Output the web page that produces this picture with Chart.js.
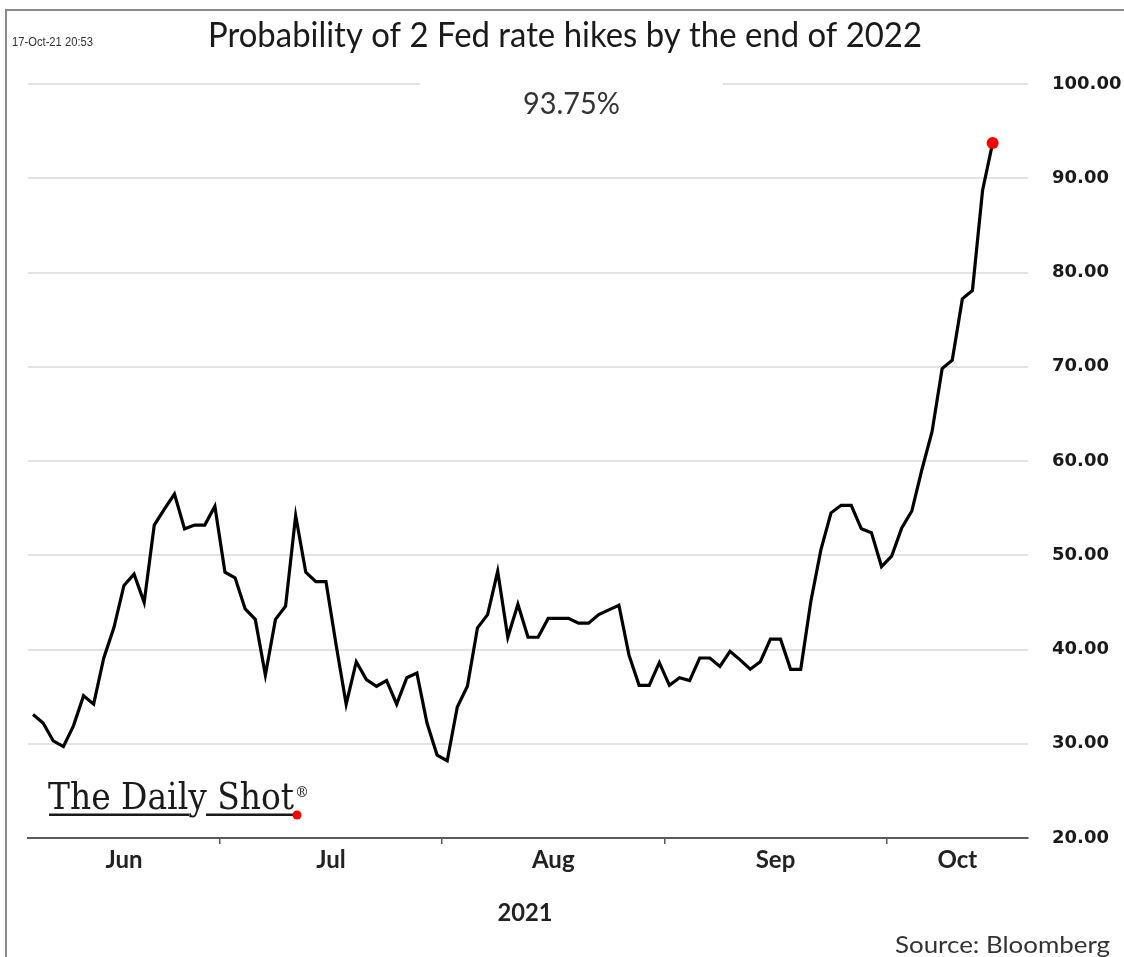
<!DOCTYPE html>
<html>
<head>
<meta charset="utf-8">
<script src="https://cdn.jsdelivr.net/npm/chart.js@4"></script>
<style>
html,body{margin:0;padding:0;background:#fff;}
#wrap{width:1124px;height:957px;position:relative;}
canvas{display:block;}
</style>
</head>
<body>
<div id="wrap"><canvas id="c" width="1124" height="957"></canvas></div>
<script>
// ---------------- DATA ----------------
const titleText = 'Probability of 2 Fed rate hikes by the end of 2022';
const stampText = '17-Oct-21 20:53';
const yearText = '2021';
const sourceText = 'Source: Bloomberg';
const logoText = 'The Daily Shot';

const dates = [
  '2021-06-04',
  '2021-06-07','2021-06-08','2021-06-09','2021-06-10','2021-06-11',
  '2021-06-14','2021-06-15','2021-06-16','2021-06-17','2021-06-18',
  '2021-06-21','2021-06-22','2021-06-23','2021-06-24','2021-06-25',
  '2021-06-28','2021-06-29','2021-06-30',
  '2021-07-01','2021-07-02',
  '2021-07-05','2021-07-06','2021-07-07','2021-07-08','2021-07-09',
  '2021-07-12','2021-07-13','2021-07-14','2021-07-15','2021-07-16',
  '2021-07-19','2021-07-20','2021-07-21','2021-07-22','2021-07-23',
  '2021-07-26','2021-07-27','2021-07-28','2021-07-29','2021-07-30',
  '2021-08-02','2021-08-03','2021-08-04','2021-08-05','2021-08-06',
  '2021-08-09','2021-08-10','2021-08-11','2021-08-12','2021-08-13',
  '2021-08-16','2021-08-17','2021-08-18','2021-08-19','2021-08-20',
  '2021-08-23','2021-08-24','2021-08-25','2021-08-26','2021-08-27',
  '2021-08-30','2021-08-31',
  '2021-09-01','2021-09-02','2021-09-03',
  '2021-09-06','2021-09-07','2021-09-08','2021-09-09','2021-09-10',
  '2021-09-13','2021-09-14','2021-09-15','2021-09-16','2021-09-17',
  '2021-09-20','2021-09-21','2021-09-22','2021-09-23','2021-09-24',
  '2021-09-27','2021-09-28','2021-09-29','2021-09-30',
  '2021-10-01',
  '2021-10-04','2021-10-05','2021-10-06','2021-10-07','2021-10-08',
  '2021-10-11','2021-10-12','2021-10-13','2021-10-14','2021-10-15'
];

const values = [
  33.1, 32.2, 30.3, 29.7, 31.9, 35.1, 34.2, 39.1, 42.3, 46.8,
  48.0, 45.0, 53.2, 54.9, 56.5, 52.8, 53.2, 53.2, 55.2,
  48.2, 47.6, 44.3, 43.2, 37.3, 43.2, 44.6, 54.2, 48.2, 47.2,
  47.2, 40.5, 34.2, 38.7, 36.8, 36.1, 36.7, 34.2, 37.0, 37.5,
  32.2, 28.8,
  28.2, 33.9, 36.1, 42.3, 43.7, 48.3, 41.3, 44.8, 41.3, 41.3,
  43.3, 43.3, 43.3, 42.8, 42.8, 43.7, 44.2, 44.7, 39.4, 36.2,
  36.2, 38.6,
  36.2, 37.0, 36.7, 39.1, 39.1, 38.2, 39.8, 38.9, 37.9, 38.7,
  41.1, 41.1, 37.9, 37.9, 45.1, 50.6, 54.5, 55.3, 55.3, 52.8,
  52.4, 48.8,
  49.9, 52.9, 54.7, 59.1, 63.1, 69.8, 70.7, 77.2, 78.1, 88.7,
  93.75
];

const monthNames = {6:'Jun', 7:'Jul', 8:'Aug', 9:'Sep', 10:'Oct'};
const yMin = 20, yMax = 100, yStep = 10;
const blankSlots = 3; // empty trailing days on the axis

// ---------------- X AXIS TICKS (month boundaries + centred labels) ----------------
const xMin = -0.5;
const xMax = values.length - 0.5 + blankSlots;
const groups = [];
dates.forEach((d, i) => {
  const m = +d.slice(5, 7);
  const g = groups[groups.length - 1];
  if (!g || g.m !== m) groups.push({m: m, first: i, last: i});
  else g.last = i;
});
const xTicks = [];
groups.forEach((g, k) => {
  const lo = k === 0 ? xMin : g.first - 0.5;
  const hi = k === groups.length - 1 ? xMax : g.last + 0.5;
  if (k > 0) xTicks.push({value: g.first - 0.5, boundary: true});
  xTicks.push({value: (lo + hi) / 2, text: monthNames[g.m]});
});

const points = values.map((v, i) => ({x: i, y: v}));
const lastVal = values[values.length - 1];

// ---------------- helpers ----------------
function fitText(ctx, text, font, x, y, w, align, color) {
  ctx.save();
  ctx.font = font;
  ctx.fillStyle = color;
  ctx.textBaseline = 'alphabetic';
  ctx.textAlign = 'left';
  const m = ctx.measureText(text).width;
  const s = w / m;
  const x0 = align === 'left' ? x : (align === 'right' ? x - w : x - w / 2);
  ctx.translate(x0, y);
  ctx.scale(s, 1);
  ctx.fillText(text, 0, 0);
  ctx.restore();
}

const decor = {
  id: 'decor',
  beforeDatasetsDraw(chart) {
    const ctx = chart.ctx;
    const y = chart.scales.y.getPixelForValue(yMax);
    ctx.save();
    ctx.fillStyle = '#ffffff';
    ctx.fillRect(420, y - 4, 303, 8);
    ctx.restore();
  },
  afterDraw(chart) {
    const ctx = chart.ctx;
    // frame
    ctx.save();
    ctx.strokeStyle = '#8a8a8a';
    ctx.lineWidth = 2;
    ctx.beginPath();
    ctx.moveTo(6, 957);
    ctx.lineTo(6, 10);
    ctx.lineTo(1124, 10);
    ctx.stroke();
    ctx.restore();

    fitText(ctx, stampText, '12px "Liberation Sans"', 12, 46, 81, 'left', '#333');
    fitText(ctx, titleText, '34px Lato', 208, 47, 714, 'left', '#1a1a1a');
    fitText(ctx, lastVal.toFixed(2) + '%', '30px Lato', 571.5, 114, 97, 'center', '#333');
    fitText(ctx, yearText, 'bold 24px Lato', 525, 921, 55, 'center', '#222');
    fitText(ctx, sourceText, '24px Lato', 1110, 953, 215, 'right', '#333');

    // logo
    fitText(ctx, logoText, '37px "DejaVu Serif"', 48, 809, 246, 'left', '#1a1a1a');
    ctx.save();
    ctx.font = '14px "DejaVu Serif"';
    ctx.fillStyle = '#1a1a1a';
    ctx.fillText('\u00AE', 295, 797);
    ctx.fillRect(49, 813.5, 140, 2.5);
    ctx.fillRect(206, 813.5, 87, 2.5);
    ctx.fillStyle = '#ff0000';
    ctx.beginPath();
    ctx.arc(297, 815, 4.5, 0, Math.PI * 2);
    ctx.fill();
    ctx.restore();
  }
};

new Chart(document.getElementById('c'), {
  type: 'line',
  data: {
    datasets: [{
      data: points,
      borderColor: '#000000',
      borderWidth: 3.2,
      tension: 0,
      fill: false,
      pointRadius: (c) => c.dataIndex === values.length - 1 ? 6 : 0,
      pointHoverRadius: (c) => c.dataIndex === values.length - 1 ? 6 : 0,
      pointBackgroundColor: '#ff0000',
      pointBorderWidth: 0,
      clip: false
    }]
  },
  options: {
    responsive: false,
    animation: false,
    devicePixelRatio: 1,
    layout: {padding: {left: 28, top: 84, right: 0, bottom: 0}},
    plugins: {legend: {display: false}, tooltip: {enabled: false}, title: {display: false}},
    scales: {
      x: {
        type: 'linear',
        min: xMin,
        max: xMax,
        afterBuildTicks: (axis) => { axis.ticks = xTicks.map(t => Object.assign({}, t)); },
        afterFit: (axis) => { axis.height = 119; },
        border: {display: true, color: '#5a5a5a', width: 2},
        grid: {
          drawOnChartArea: false,
          drawTicks: true,
          tickLength: 6,
          lineWidth: 1.5,
          color: (c) => (c.tick && c.tick.boundary) ? '#5a5a5a' : 'rgba(0,0,0,0)'
        },
        ticks: {
          autoSkip: false,
          maxRotation: 0,
          padding: 2,
          color: '#222',
          font: {family: 'Lato', size: 24, weight: 'bold'},
          callback: (value, index, ticks) => ticks[index].text || ''
        }
      },
      y: {
        position: 'right',
        min: yMin,
        max: yMax,
        afterFit: (axis) => { axis.width = 96; },
        border: {display: false},
        grid: {color: '#e3e3e3', lineWidth: 2, drawTicks: false},
        ticks: {
          stepSize: yStep,
          padding: 24,
          color: '#1a1a1a',
          font: {family: '"DejaVu Sans"', size: 18, weight: 'bold'},
          callback: (v) => Number(v).toFixed(2)
        }
      }
    }
  },
  plugins: [decor]
});
</script>
</body>
</html>
